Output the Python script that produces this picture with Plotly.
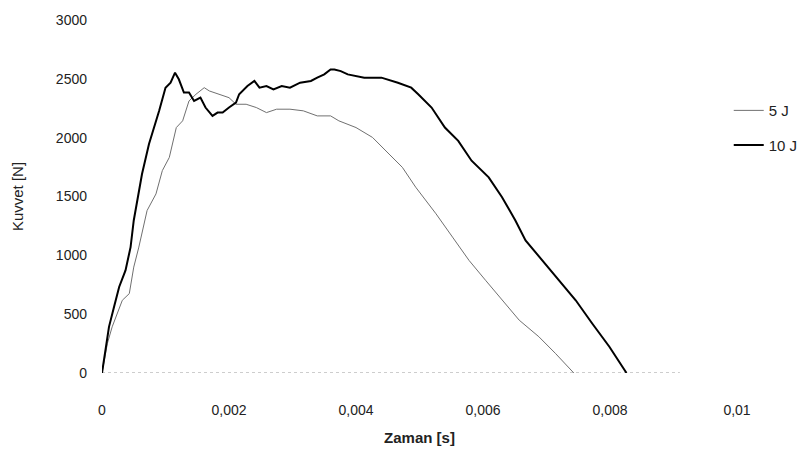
import plotly.graph_objects as go

# 5 J series
t_5J = [0, 0.000085, 0.00016, 0.00032, 0.00043, 0.0005, 0.00058, 0.00071, 0.00085, 0.00095,
        0.00106, 0.00117, 0.00127, 0.00137, 0.00148, 0.00161, 0.00169, 0.00185, 0.002, 0.00211,
        0.00227, 0.00243, 0.00259, 0.00275, 0.00296, 0.00317, 0.00339, 0.0036, 0.00373, 0.004,
        0.00426, 0.00452, 0.00473, 0.00494, 0.00526, 0.00552, 0.00578, 0.00604, 0.0063, 0.00657,
        0.00688, 0.00714, 0.00743]
F_5J = [0, 252, 392, 618, 675, 900, 1070, 1381, 1522, 1720,
        1832, 2086, 2143, 2312, 2369, 2425, 2397, 2369, 2340, 2284,
        2284, 2256, 2213, 2242, 2242, 2228, 2185, 2185, 2143, 2086,
        2002, 1861, 1748, 1579, 1353, 1155, 957, 788, 618, 449,
        308, 167, 0]

# 10 J series
t_10J = [0, 0.000053, 0.00011, 0.00019, 0.00027, 0.00037, 0.00045, 0.0005, 0.00058, 0.00063,
         0.00074, 0.00082, 0.0009, 0.001, 0.00108, 0.00115, 0.00121, 0.00129, 0.00137, 0.00145,
         0.00155, 0.00163, 0.00174, 0.00182, 0.0019, 0.002, 0.00211, 0.00216, 0.00224, 0.00229,
         0.0024, 0.00248, 0.00259, 0.0027, 0.00283, 0.00296, 0.00312, 0.00329, 0.00339, 0.0035,
         0.0036, 0.00366, 0.00376, 0.00387, 0.00413, 0.0044, 0.00466, 0.00487, 0.00498, 0.00519,
         0.0054, 0.00561, 0.00582, 0.00609, 0.0063, 0.00651, 0.00667, 0.00693, 0.0072, 0.00746,
         0.00772, 0.00799, 0.00826]
F_10J = [0, 195, 392, 562, 731, 872, 1070, 1296, 1522, 1691,
         1946, 2086, 2228, 2425, 2467, 2552, 2496, 2383, 2383, 2312,
         2340, 2256, 2185, 2213, 2213, 2256, 2298, 2369, 2411, 2439,
         2482, 2425, 2439, 2411, 2439, 2425, 2467, 2482, 2510, 2538,
         2580, 2580, 2566, 2538, 2510, 2510, 2467, 2425, 2369, 2256,
         2086, 1973, 1804, 1663, 1494, 1296, 1127, 957, 788, 618,
         421, 223, 0]

# faint zero baseline of the recorded signals
t_base = [0, 0.0091]
F_base = [0, 0]

x_ticks = [0, 0.002, 0.004, 0.006, 0.008, 0.01]
x_tick_labels = ["0", "0,002", "0,004", "0,006", "0,008", "0,01"]
y_ticks = [0, 500, 1000, 1500, 2000, 2500, 3000]
y_tick_labels = ["0", "500", "1000", "1500", "2000", "2500", "3000"]

FONT = "Liberation Sans, Arial, sans-serif"

fig = go.Figure()
fig.add_trace(go.Scatter(x=t_base, y=F_base, mode="lines", showlegend=False,
                         line=dict(color="#9a9a9a", width=1, dash="dot"), hoverinfo="skip"))
fig.add_trace(go.Scatter(x=t_5J, y=F_5J, mode="lines", name="5 J", legendgroup="a",
                         line=dict(color="#707070", width=1)))
fig.add_trace(go.Scatter(x=t_10J, y=F_10J, mode="lines", name="10 J", legendgroup="b",
                         line=dict(color="#000000", width=2)))

fig.update_layout(
    width=808, height=457,
    margin=dict(l=102, r=71, t=20, b=84, autoexpand=False),
    paper_bgcolor="white", plot_bgcolor="white",
    font=dict(family=FONT, size=14, color="#222222"),
    legend=dict(x=0.987, y=0.79, xanchor="left", yanchor="top",
                bgcolor="rgba(0,0,0,0)", font=dict(size=15, color="#222222"),
                itemwidth=30, tracegroupgap=12),
    xaxis=dict(range=[0, 0.01], tickvals=x_ticks, ticktext=x_tick_labels,
               showgrid=False, zeroline=False, showline=False, ticks="",
               ticklabelstandoff=27, tickfont=dict(size=14),
               title=dict(text="<b>Zaman [s]</b>", font=dict(size=15, color="#222222"), standoff=15)),
    yaxis=dict(range=[0, 3000], tickvals=y_ticks, ticktext=y_tick_labels,
               showgrid=False, zeroline=False, showline=False, ticks="",
               ticklabelstandoff=14, tickfont=dict(size=14),
               title=dict(text="Kuvvet [N]", font=dict(size=15, color="#222222"), standoff=28)),
)

fig.write_html("out.html")
